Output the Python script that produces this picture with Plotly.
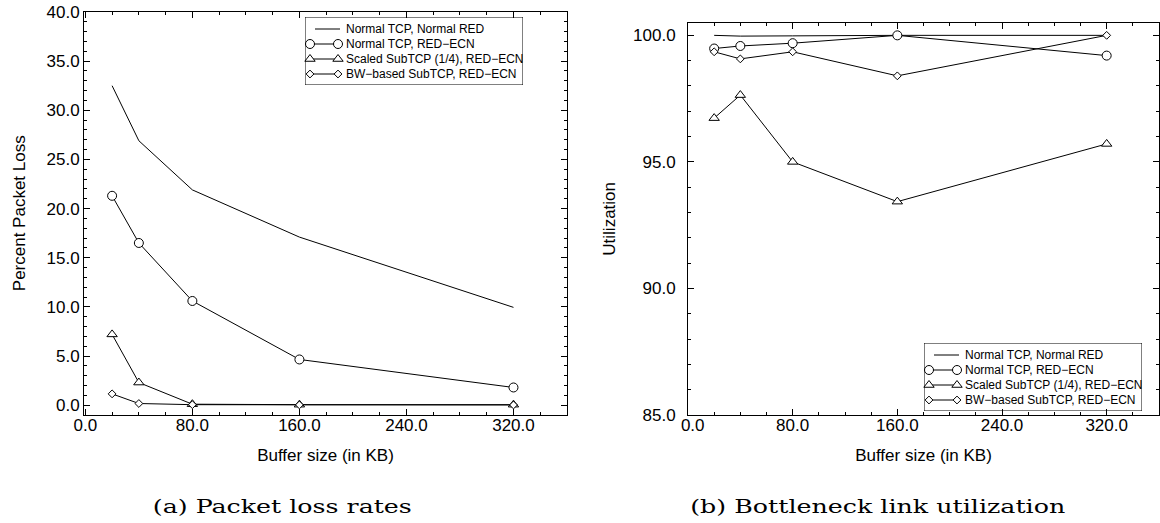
import plotly.graph_objects as go

# Buffer sizes (KB) used in the simulations
buffer_kb = [20, 40, 80, 160, 320]

# (a) Packet loss rates, percent
loss_normal_red = [32.5, 26.9, 21.9, 17.1, 9.95]
loss_normal_ecn = [21.3, 16.5, 10.6, 4.65, 1.8]
loss_scaled_ecn = [7.2, 2.3, 0.1, 0.05, 0.05]
loss_bw_ecn = [1.15, 0.17, 0.05, 0.03, 0.02]

# (b) Bottleneck link utilization, percent
util_normal_red = [100.0, 99.97, 99.98, 100.0, 100.0]
util_normal_ecn = [99.48, 99.58, 99.69, 100.0, 99.2]
util_scaled_ecn = [96.73, 97.64, 95.0, 93.43, 95.71]
util_bw_ecn = [99.35, 99.07, 99.35, 98.40, 100.0]

# x-axis tick positions and labels (the right panel's first label is nudged off the corner)
x_tickvals = [0, 80, 160, 240, 320]
x_ticktext_left = ["0.0", "80.0", "160.0", "240.0", "320.0"]
x_ticktext_right = ["\u00a0\u00a00.0", "80.0", "160.0", "240.0", "320.0"]

series_names = [
    "Normal TCP, Normal RED",
    "Normal TCP, RED\u2212ECN",
    "Scaled SubTCP (1/4), RED\u2212ECN",
    "BW\u2212based SubTCP, RED\u2212ECN",
]
series_symbols = [None, "circle", "triangle-up", "diamond"]
series_sizes = [0, 9, 9, 6]

captions = ["(a) Packet loss rates", "(b) Bottleneck link utilization"]

W, H = 1160, 523
SANS = "Liberation Sans"
SERIF = "DejaVu Serif"


def px_x(p):
    return p / W


def px_y(p):
    return 1 - p / H


fig = go.Figure()

panels = [
    ("x", "y", [loss_normal_red, loss_normal_ecn, loss_scaled_ecn, loss_bw_ecn]),
    ("x2", "y2", [util_normal_red, util_normal_ecn, util_scaled_ecn, util_bw_ecn]),
]
for xa, ya, data in panels:
    for name, sym, size, vals in zip(series_names, series_symbols, series_sizes, data):
        fig.add_trace(go.Scatter(
            x=buffer_kb, y=vals, name=name, xaxis=xa, yaxis=ya,
            mode="lines" if sym is None else "lines+markers",
            line=dict(color="black", width=1),
            marker=dict(symbol=sym or "circle", size=size, color="white",
                        line=dict(color="black", width=1)),
            showlegend=False, hoverinfo="skip", cliponaxis=False,
        ))

# Hand-drawn legend boxes, each on its own local axis (units = pixels inside the box)
LEG_W, LEG_H = 218, 68
row_y = [12, 27, 42, 57]
legend_boxes = [("x3", "y3", 305, 17), ("x4", "y4", 924, 343)]
for xa, ya, left, top in legend_boxes:
    for name, sym, size, ry in zip(series_names, series_symbols, series_sizes, row_y):
        if sym is None:
            fig.add_trace(go.Scatter(
                x=[10, 35], y=[ry, ry], mode="lines", xaxis=xa, yaxis=ya,
                line=dict(color="black", width=1), showlegend=False, hoverinfo="skip"))
        else:
            fig.add_trace(go.Scatter(
                x=[5, 33], y=[ry, ry], mode="lines+markers", xaxis=xa, yaxis=ya,
                line=dict(color="black", width=1),
                marker=dict(symbol=sym, size=size, color="white",
                            line=dict(color="black", width=1)),
                showlegend=False, hoverinfo="skip", cliponaxis=False))
        fig.add_annotation(
            x=39, y=ry, xref=xa, yref=ya, text=name, showarrow=False,
            xanchor="left", yanchor="middle",
            font=dict(family=SANS, size=12, color="black"))
    fig.add_shape(type="rect", xref=xa, yref=ya, x0=0, x1=LEG_W, y0=0, y1=LEG_H,
                  line=dict(color="black", width=1), fillcolor="rgba(0,0,0,0)")

axis_common = dict(
    showline=True, linecolor="black", linewidth=1, mirror="allticks",
    ticks="inside", ticklen=6, tickwidth=1, tickcolor="black",
    showgrid=False, zeroline=False, tickformat=".1f", automargin=False,
    tickfont=dict(family=SANS, size=17, color="black"),
    minor=dict(ticks="inside", ticklen=3, tickwidth=1, tickcolor="black", showgrid=False),
)
hidden = dict(visible=False, showgrid=False, zeroline=False, fixedrange=True, automargin=False)
title_font = dict(family=SANS, size=17, color="black")

fig.update_layout(
    template="none",
    width=W, height=H,
    margin=dict(l=0, r=0, t=0, b=0, pad=0),
    paper_bgcolor="white", plot_bgcolor="rgba(0,0,0,0)",
    hovermode=False,
    xaxis=dict(axis_common, domain=[px_x(84), px_x(567)], range=[-1, 360],
               tickmode="array", tickvals=x_tickvals, ticktext=x_ticktext_left,
               minor=dict(axis_common["minor"], tickmode="linear", tick0=0, dtick=20),
               ticklabelstandoff=-5,
               title=dict(text="Buffer size (in KB)", standoff=14, font=title_font),
               anchor="y"),
    yaxis=dict(axis_common, domain=[px_y(415), px_y(11.5)], range=[-1.0, 40.05],
               tick0=0, dtick=5, minor=dict(axis_common["minor"], dtick=1),
               title=dict(text="Percent Packet Loss", standoff=16, font=title_font),
               anchor="x"),
    xaxis2=dict(axis_common, domain=[px_x(688), px_x(1159)], range=[0, 360],
                tickmode="array", tickvals=x_tickvals, ticktext=x_ticktext_right,
                minor=dict(axis_common["minor"], tickmode="linear", tick0=0, dtick=20),
                ticklabelstandoff=-5,
                title=dict(text="Buffer size (in KB)", standoff=14, font=title_font),
                anchor="y2"),
    yaxis2=dict(axis_common, domain=[px_y(415), px_y(22.7)], range=[85, 100.5],
                tick0=85, dtick=5, minor=dict(axis_common["minor"], dtick=1),
                ticklabelstandoff=8,
                title=dict(text="Utilization", standoff=13, font=title_font),
                anchor="x2"),
    xaxis3=dict(hidden, domain=[px_x(305), px_x(305 + LEG_W)], range=[0, LEG_W], anchor="y3"),
    yaxis3=dict(hidden, domain=[px_y(17 + LEG_H), px_y(17)], range=[LEG_H, 0], anchor="x3"),
    xaxis4=dict(hidden, domain=[px_x(924), px_x(924 + LEG_W)], range=[0, LEG_W], anchor="y4"),
    yaxis4=dict(hidden, domain=[px_y(343 + LEG_H), px_y(343)], range=[LEG_H, 0], anchor="x4"),
)

# Sub-figure captions
for text, cx in zip(captions, [282.5, 877.5]):
    fig.add_annotation(
        x=px_x(cx), y=px_y(506), xref="paper", yref="paper", text=text,
        showarrow=False, xanchor="center", yanchor="middle",
        font=dict(family=SERIF, size=19, color="black"))

# Widen the caption lines to their typeset widths
caption_js = """
var widths = {"(a) Packet loss rates": 259, "(b) Bottleneck link utilization": 375};
document.querySelectorAll('text.annotation-text').forEach(function (t) {
    var w = widths[t.textContent];
    if (w) {
        t.setAttribute('textLength', w);
        t.setAttribute('lengthAdjust', 'spacingAndGlyphs');
    }
});
"""

fig.write_html("out.html", post_script=caption_js, config={"staticPlot": True})
